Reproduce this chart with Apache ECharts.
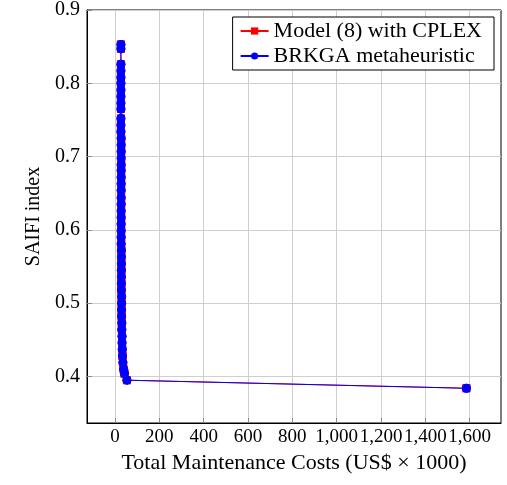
<!DOCTYPE html>
<html>
<head>
<meta charset="utf-8">
<script src="https://cdn.jsdelivr.net/npm/echarts@6/dist/echarts.min.js"></script>
<style>
  html, body { margin: 0; padding: 0; background: #fff; }
  #chart { width: 507px; height: 485px; }
</style>
</head>
<body>
<div id="chart"></div>
<script>
// data
var cplexCost = [27, 27, 27, 27, 27, 27, 27, 27, 27, 27, 27, 27, 27, 28, 28, 28, 28, 28, 28, 28,
  28, 28, 28, 28, 28, 28, 28, 28, 28, 28, 29, 29, 29, 29, 29, 29, 29, 30, 30, 30,
  30, 31, 31, 32, 32, 33, 34, 36, 39, 43, 54, 1585];
var cplexSaifi = [0.853, 0.847, 0.826, 0.817, 0.808, 0.800, 0.791, 0.782, 0.773, 0.765, 0.752, 0.743, 0.734, 0.725, 0.716, 0.707, 0.698, 0.689, 0.681, 0.672,
  0.663, 0.654, 0.644, 0.635, 0.626, 0.617, 0.608, 0.599, 0.590, 0.581, 0.572, 0.563, 0.554, 0.545, 0.536, 0.527, 0.518, 0.509, 0.500, 0.491,
  0.482, 0.473, 0.464, 0.455, 0.446, 0.437, 0.428, 0.419, 0.410, 0.404, 0.395, 0.384];
var brkgaCost = cplexCost.slice();
var brkgaSaifi = cplexSaifi.slice();

var xTicks = [0, 200, 400, 600, 800, 1000, 1200, 1400, 1600];
var yTicks = [0.4, 0.5, 0.6, 0.7, 0.8, 0.9];

function pairs(xs, ys) {
  return xs.map(function (x, i) { return [x, ys[i]]; });
}

var chart = echarts.init(document.getElementById('chart'));
var serif = 'Liberation Serif';
var RED = '#ff0000', BLUE = '#0000ff';

var option = {
  animation: false,
  textStyle: { fontFamily: serif },
  grid: {
    left: 87, right: 6, top: 9, bottom: 62,
    show: true, borderColor: '#000', borderWidth: 1
  },
  legend: {
    right: 13, top: 17,
    orient: 'vertical',
    backgroundColor: '#fff',
    borderColor: '#000', borderWidth: 1,
    padding: [3, 12, 3, 7],
    itemGap: 3,
    itemWidth: 28, itemHeight: 9,
    textStyle: { fontFamily: serif, fontSize: 22, color: '#000' },
    data: ['Model (8) with CPLEX', 'BRKGA metaheuristic']
  },
  xAxis: {
    type: 'value',
    min: -126, max: 1741,
    name: 'Total Maintenance Costs (US$ × 1000)',
    nameLocation: 'middle', nameGap: 29,
    nameTextStyle: { fontFamily: serif, fontSize: 22, color: '#000' },
    axisLine: { show: true, onZero: false, lineStyle: { color: '#000' } },
    axisTick: { show: true, inside: true, length: 5, customValues: xTicks, lineStyle: { color: '#888' } },
    axisLabel: {
      customValues: xTicks, fontFamily: serif, fontSize: 19, color: '#000', margin: 5,
      hideOverlap: false,
      formatter: function (v) { return v >= 1000 ? Math.floor(v / 1000) + ',' + String(v % 1000).padStart(3, '0') : String(v); }
    },
    splitLine: { show: true, lineStyle: { color: '#cfcfcf' } }
  },
  yAxis: {
    type: 'value',
    min: 0.3366, max: 0.9,
    name: 'SAIFI index',
    nameLocation: 'middle', nameGap: 37,
    nameTextStyle: { fontFamily: serif, fontSize: 20, color: '#000' },
    axisLine: { show: true, onZero: false, lineStyle: { color: '#000' } },
    axisTick: { show: true, inside: true, length: 5, customValues: yTicks, lineStyle: { color: '#888' } },
    axisLabel: {
      customValues: yTicks, fontFamily: serif, fontSize: 20, color: '#000', margin: 7,
      formatter: function (v) { return v.toFixed(1); }
    },
    splitLine: { show: true, lineStyle: { color: '#cfcfcf' } }
  },
  series: [
    {
      name: 'Model (8) with CPLEX',
      type: 'line',
      data: pairs(cplexCost, cplexSaifi),
      symbol: 'rect', symbolSize: 8,
      itemStyle: { color: RED },
      lineStyle: { color: RED, width: 1 },
      z: 2
    },
    {
      name: 'Model (8) with CPLEX',
      type: 'scatter',
      data: pairs(cplexCost, cplexSaifi),
      symbol: 'rect', symbolSize: 8,
      itemStyle: { color: RED },
      z: 3
    },
    {
      name: 'BRKGA metaheuristic',
      type: 'line',
      data: pairs(brkgaCost, brkgaSaifi),
      symbol: 'circle', symbolSize: 9,
      itemStyle: { color: BLUE },
      lineStyle: { color: BLUE, width: 1 },
      z: 4
    },
    {
      name: 'BRKGA metaheuristic',
      type: 'scatter',
      data: pairs(brkgaCost, brkgaSaifi),
      symbol: 'circle', symbolSize: 9,
      itemStyle: { color: BLUE },
      z: 5
    }
  ]
};

chart.setOption(option);
</script>
</body>
</html>
